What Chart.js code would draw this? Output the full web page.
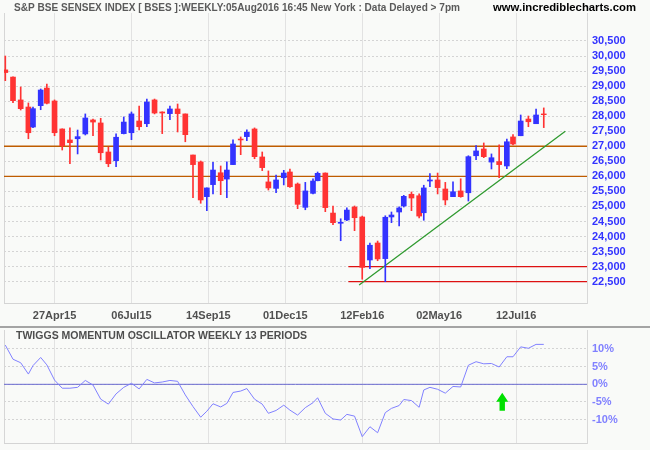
<!DOCTYPE html>
<html>
<head>
<meta charset="utf-8">
<script src="https://cdn.jsdelivr.net/npm/chart.js@4"></script>
<style>
html,body{margin:0;padding:0;background:#f9faf8;}
#wrap{position:relative;width:650px;height:450px;overflow:hidden;}
#priceChart{position:absolute;left:0;top:0;}
#sep{position:absolute;left:0;top:326px;width:650px;height:2px;background:#a4a4a4;}
#oscChart{position:absolute;left:0;top:328px;}
</style>
</head>
<body>
<div id="wrap">
  <canvas id="priceChart" width="650" height="326"></canvas>
  <div id="sep"></div>
  <canvas id="oscChart" width="650" height="122"></canvas>
</div>
<script>
// weekly bars, x = trading-day count from the first bar
const tradeDay = [0,5,10,15,18,23,27,32,37,42,47,52,57,62,67,72,77,82,87,92,97,102,107,112,117,
  122,127,131,135,140,144,148,153,157,162,167,171,176,181,185,190,195,200,203,208,213,218,222,227,232,
  237,242,247,251,256,259,264,269,272,276,281,286,291,296,301,306,311,316,321,326,330,335,340,345,350];

const openP = [29540,29300,28540,28305,27640,28350,28935,28505,27575,27210,
  27250,27410,27875,27775,26810,26520,27420,27450,27840,27750,
  28540,28140,28085,28240,28075,26710,26480,25325,25725,26120,
  25910,26390,27240,27320,27575,26645,25815,25600,25955,26145,
  25745,24970,25435,25855,26110,24780,24440,24550,24980,24650,
  23220,23785,23265,24650,24815,25015,25405,25355,24790,25845,
  25880,25580,25325,25515,25455,26685,26910,26475,26490,26345,
  27310,27350,27905,27750,28075];
const highP = [30000,29310,28970,28440,28305,28905,29070,28540,27580,27610,
  27540,28075,27905,27930,26975,27410,27975,28140,28340,28570,
  28570,28145,28340,28405,28075,26710,26510,25615,26465,26345,
  26480,27210,27310,27550,27610,26810,26180,26045,26200,26245,
  25780,25800,25920,26145,26115,25015,24590,24950,25015,24680,
  23785,23850,24690,24815,24990,25370,25480,25415,25705,26090,
  26110,25800,25815,25920,26685,27020,27110,26745,27045,27240,
  27385,28040,28005,28240,28275];
const lowP = [29180,28450,28205,27250,27620,28215,28405,27350,26875,26420,
  26745,27375,27350,26545,26320,26320,27410,27220,27540,27650,
  28075,27420,27885,27475,27150,25290,25105,24860,25415,25390,
  25290,26390,26720,27185,26585,26190,25545,25455,25715,25635,
  24925,24890,25415,25850,24825,24395,23860,24525,24195,22580,
  22930,23195,22500,24460,24350,24980,24860,24615,24540,25655,
  25415,25050,25325,25305,25180,26555,26620,26245,25955,26255,
  27045,27350,27650,27750,27620];
const closeP = [29450,28515,28250,27450,28250,28870,28430,27450,27020,27120,
  27320,27940,27805,26785,26420,27300,27805,28075,27650,28470,
  28105,28105,28240,28085,27385,26390,25215,25615,26210,25855,
  26210,27075,27210,27465,26655,26290,25615,25880,26110,25655,
  25070,25515,25845,26100,24960,24460,24475,24880,24625,22975,
  23710,23255,24640,24715,24950,25335,25280,24680,25615,25880,
  25625,25215,25490,25325,26655,26845,26655,26620,26390,27150,
  27075,27840,27815,28040,28050];

// Twiggs momentum, %
const momentum = [11.1,7.1,6.1,2.9,5.3,7.6,5.5,1.2,-1.1,-1.1,
  -0.85,1.1,-0.2,-4.2,-5.6,-2.7,-0.85,0.3,-1.3,1.4,
  0.4,0.65,1.1,0.85,-3.0,-6.3,-9.3,-7.6,-5.5,-6.4,
  -5.4,-2.3,-1.9,-1.2,-4.2,-5.6,-8.2,-7.4,-5.9,-7.3,
  -8.7,-6.6,-5.2,-3.8,-8.2,-9.8,-10.1,-8.5,-9.0,-14.8,
  -12.0,-13.7,-8.0,-6.8,-6.0,-4.3,-4.6,-6.5,-1.6,-0.85,
  -1.4,-2.5,-0.6,-0.75,5.4,6.4,5.8,5.9,4.9,7.8,
  7.8,10.6,10.2,11.3,11.3];

const dateTickDays = [32,82,132,182,232,282,332];
const dateTickLabels = ["27Apr15","06Jul15","14Sep15","01Dec15","12Feb16","02May16","12Jul16"];
const priceTicks = [22500,23000,23500,24000,24500,25000,25500,26000,26500,27000,27500,28000,28500,29000,29500,30000,30500];
const momentumTicks = [-10,-5,0,5,10];

// drawn levels
const resistanceLevels = [27000, 26000];
const supportLevels = [23000, 22500];
const supportFromDay = 223;
const trendLine = [{x:230, y:22390}, {x:364, y:27500}];
const signalArrow = {day:323, tip:-2.4, tail:-7.5};

const dayMin = -0.85, dayMax = 378.1;
const priceMin = 21790, priceMax = 31430;
const momMin = -16.6, momMax = 15.37;

const FONT = '"Liberation Sans", Arial, sans-serif';
const UP = "#3333ff", DOWN = "#ff3333";

const candleColors = openP.map((o,i) => closeP[i] >= o ? UP : DOWN);

// keep the plot area where the picture has it: no label overhang padding
function noPad(s) {
  s.paddingTop = 0; s.paddingBottom = 0; s.paddingLeft = 0; s.paddingRight = 0;
}

// text drawn on top, squeezed to the width seen in the picture
const panelText = {
  id: "panelText",
  afterDraw(chart, args, opts) {
    const ctx = chart.ctx;
    (opts.items || []).forEach(t => {
      ctx.save();
      ctx.font = t.font;
      ctx.fillStyle = t.color;
      ctx.textBaseline = "alphabetic";
      const w = ctx.measureText(t.text).width;
      ctx.translate(t.x, t.y);
      ctx.scale(t.width ? t.width / w : 1, 1);
      ctx.fillText(t.text, 0, 0);
      ctx.restore();
    });
  }
};

// left edge of plot frame
const leftEdge = {
  id: "leftEdge",
  beforeDatasetsDraw(chart) {
    const a = chart.chartArea, ctx = chart.ctx;
    ctx.save();
    ctx.strokeStyle = "#d6d6d6";
    ctx.lineWidth = 1;
    ctx.beginPath();
    ctx.moveTo(Math.round(a.left) + 0.5, a.top);
    ctx.lineTo(Math.round(a.left) + 0.5, a.bottom);
    ctx.stroke();
    ctx.restore();
  }
};

const arrowPlugin = {
  id: "signalArrow",
  afterDatasetsDraw(chart) {
    const ctx = chart.ctx;
    const cx = chart.scales.x.getPixelForValue(signalArrow.day);
    const tip = chart.scales.y.getPixelForValue(signalArrow.tip);
    const tail = chart.scales.y.getPixelForValue(signalArrow.tail);
    const neck = tip + (tail - tip) * 0.5;
    ctx.save();
    ctx.fillStyle = "#00e000";
    ctx.beginPath();
    ctx.moveTo(cx, tip);
    ctx.lineTo(cx + 6, neck);
    ctx.lineTo(cx + 2.7, neck);
    ctx.lineTo(cx + 2.7, tail);
    ctx.lineTo(cx - 2.7, tail);
    ctx.lineTo(cx - 2.7, neck);
    ctx.lineTo(cx - 6, neck);
    ctx.closePath();
    ctx.fill();
    ctx.restore();
  }
};

function levelLine(y, from, color, width) {
  return {
    type: "line",
    data: [{x: from, y: y}, {x: dayMax, y: y}],
    borderColor: color,
    borderWidth: width,
    pointRadius: 0,
    fill: false,
    order: 5
  };
}

const priceDatasets = [
  {
    type: "bar",
    data: tradeDay.map((d,i) => ({x: d, y: [openP[i], closeP[i]]})),
    backgroundColor: candleColors,
    borderWidth: 0,
    barThickness: 5,
    grouped: false,
    order: 0
  },
  {
    type: "bar",
    data: tradeDay.map((d,i) => ({x: d, y: [lowP[i], highP[i]]})),
    backgroundColor: candleColors,
    borderWidth: 0,
    barThickness: 1,
    grouped: false,
    order: 1
  },
  {
    type: "line",
    data: trendLine,
    borderColor: "#2f9a2f",
    borderWidth: 1.3,
    pointRadius: 0,
    fill: false,
    order: 4
  }
];
resistanceLevels.forEach(v => priceDatasets.push(levelLine(v, dayMin, "#bf5c00", 1.3)));
supportLevels.forEach(v => priceDatasets.push(levelLine(v, supportFromDay, "#dd1111", 1.3)));

new Chart(document.getElementById("priceChart").getContext("2d"), {
  type: "bar",
  data: { datasets: priceDatasets },
  options: {
    responsive: false,
    animation: false,
    devicePixelRatio: 1,
    layout: { padding: { left: 4, top: 13, right: 0, bottom: 0 } },
    plugins: {
      legend: { display: false },
      tooltip: { enabled: false },
      panelText: { items: [
        { text: "S&P BSE SENSEX INDEX [ BSES ]:WEEKLY:05Aug2016 16:45 New York : Data Delayed > 7pm",
          x: 14, y: 11, width: 446, font: "bold 11px " + FONT, color: "#5a5a5a" },
        { text: "www.incrediblecharts.com", x: 493, y: 11, width: 143, font: "bold 11px " + FONT, color: "#000000" }
      ] }
    },
    scales: {
      x: {
        type: "linear",
        min: dayMin, max: dayMax,
        offset: false,
        afterBuildTicks: s => { s.ticks = dateTickDays.map(v => ({value: v})); },
        afterFit: s => { s.height = 23; noPad(s); },
        grid: { color: "#e2e2e2", lineWidth: 1, drawTicks: false, offset: false },
        border: { display: true, color: "#d4d4d4" },
        ticks: {
          padding: 6, color: "#505050", maxRotation: 0, autoSkip: false,
          font: { family: FONT, size: 11, weight: "bold" },
          callback: (v, i) => dateTickLabels[i]
        }
      },
      y: {
        position: "right",
        min: priceMin, max: priceMax,
        afterBuildTicks: s => { s.ticks = priceTicks.map(v => ({value: v})); },
        afterFit: s => { s.width = 63; noPad(s); },
        grid: { color: "#d4d4d4", lineWidth: 1, drawTicks: false },
        border: { display: true, color: "#d8d8d8", dash: [2, 2] },
        ticks: {
          padding: 5, color: "#3333ff",
          font: { family: FONT, size: 11, weight: "bold" },
          callback: v => v.toLocaleString("en-US")
        }
      }
    }
  },
  plugins: [panelText, leftEdge]
});

new Chart(document.getElementById("oscChart").getContext("2d"), {
  type: "line",
  data: {
    datasets: [
      {
        data: tradeDay.map((d,i) => ({x: d, y: momentum[i]})),
        borderColor: "#8080ff",
        borderWidth: 1,
        pointRadius: 0,
        tension: 0,
        fill: false,
        order: 0
      },
      {
        data: [{x: dayMin, y: 0}, {x: dayMax, y: 0}],
        borderColor: "#6a6ad0",
        borderWidth: 1,
        pointRadius: 0,
        fill: false,
        order: 1
      }
    ]
  },
  options: {
    responsive: false,
    animation: false,
    devicePixelRatio: 1,
    layout: { padding: { left: 4, top: 2, right: 0, bottom: 7 } },
    plugins: {
      legend: { display: false },
      tooltip: { enabled: false },
      panelText: { items: [
        { text: "TWIGGS MOMENTUM OSCILLATOR WEEKLY 13 PERIODS",
          x: 16, y: 11, width: 291, font: "bold 11px " + FONT, color: "#4e4e4e" }
      ] }
    },
    scales: {
      x: {
        type: "linear",
        min: dayMin, max: dayMax,
        offset: false,
        afterBuildTicks: s => { s.ticks = dateTickDays.map(v => ({value: v})); },
        afterFit: s => { s.height = 0; noPad(s); },
        grid: { color: "#e2e2e2", lineWidth: 1, drawTicks: false },
        border: { display: true, color: "#d4d4d4" },
        ticks: { display: false }
      },
      y: {
        position: "right",
        min: momMin, max: momMax,
        afterBuildTicks: s => { s.ticks = momentumTicks.map(v => ({value: v})); },
        afterFit: s => { s.width = 63; noPad(s); },
        grid: { color: "#d4d4d4", lineWidth: 1, drawTicks: false },
        border: { display: true, color: "#d8d8d8", dash: [2, 2] },
        ticks: {
          padding: 5, color: "#8080ff",
          font: { family: FONT, size: 11, weight: "bold" },
          callback: v => v + "%"
        }
      }
    }
  },
  plugins: [panelText, leftEdge, arrowPlugin]
});
</script>
</body>
</html>
